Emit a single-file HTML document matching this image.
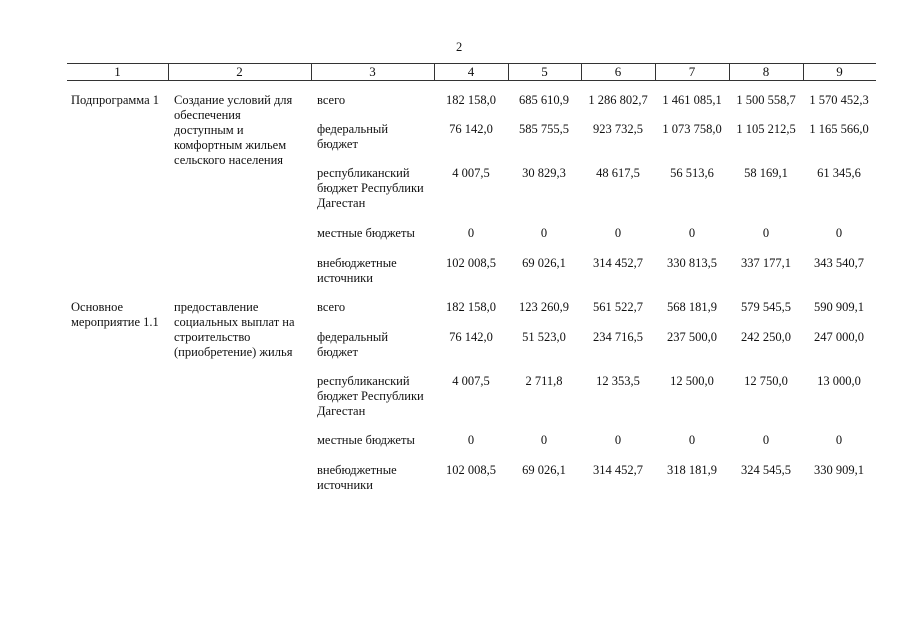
<!DOCTYPE html>
<html><head><meta charset="utf-8"><style>
body{margin:0;width:905px;height:640px;background:#fff;position:relative;overflow:hidden;font-family:"Liberation Serif",serif;font-size:12.5px;color:#111;line-height:15px}
.a{position:absolute;white-space:nowrap}
.c{position:absolute;text-align:center;white-space:nowrap}
.h{position:absolute;top:64px;height:16px;line-height:16px;text-align:center;font-size:13px}
.vl{position:absolute;top:63px;height:18px;width:1px;background:#333}
</style></head><body>
<div class="a" style="left:456px;top:40px;">2</div>
<div style="position:absolute;left:67px;top:63px;width:809px;height:1px;background:#333"></div>
<div style="position:absolute;left:67px;top:80px;width:809px;height:1px;background:#333"></div>
<div class="vl" style="left:168px"></div><div class="vl" style="left:311px"></div><div class="vl" style="left:434px"></div><div class="vl" style="left:508px"></div><div class="vl" style="left:581px"></div><div class="vl" style="left:655px"></div><div class="vl" style="left:729px"></div><div class="vl" style="left:803px"></div>
<div class="h" style="left:67px;width:101px">1</div>
<div class="h" style="left:168px;width:143px">2</div>
<div class="h" style="left:311px;width:123px">3</div>
<div class="h" style="left:434px;width:74px">4</div>
<div class="h" style="left:508px;width:73px">5</div>
<div class="h" style="left:581px;width:74px">6</div>
<div class="h" style="left:655px;width:74px">7</div>
<div class="h" style="left:729px;width:74px">8</div>
<div class="h" style="left:803px;width:73px">9</div>

<div class="a" style="left:71px;top:93px">Подпрограмма 1</div>
<div class="a" style="left:174px;top:93px">Создание условий для<br>обеспечения<br>доступным и<br>комфортным жильем<br>сельского населения</div>
<div class="a" style="left:71px;top:300px">Основное<br>мероприятие 1.1</div>
<div class="a" style="left:174px;top:300px">предоставление<br>социальных выплат на<br>строительство<br>(приобретение) жилья</div>

<div id="rows"></div>
<script>
var labels=["всего","федеральный<br>бюджет","республиканский<br>бюджет Республики<br>Дагестан","местные бюджеты","внебюджетные<br>источники"];
var tops=[93,122,166,226,256,300,330,374,433,463];
var data=[
["182 158,0","685 610,9","1 286 802,7","1 461 085,1","1 500 558,7","1 570 452,3"],
["76 142,0","585 755,5","923 732,5","1 073 758,0","1 105 212,5","1 165 566,0"],
["4 007,5","30 829,3","48 617,5","56 513,6","58 169,1","61 345,6"],
["0","0","0","0","0","0"],
["102 008,5","69 026,1","314 452,7","330 813,5","337 177,1","343 540,7"],
["182 158,0","123 260,9","561 522,7","568 181,9","579 545,5","590 909,1"],
["76 142,0","51 523,0","234 716,5","237 500,0","242 250,0","247 000,0"],
["4 007,5","2 711,8","12 353,5","12 500,0","12 750,0","13 000,0"],
["0","0","0","0","0","0"],
["102 008,5","69 026,1","314 452,7","318 181,9","324 545,5","330 909,1"]];
var cx=[471,544,618,692,766,839];
var h="";
for(var i=0;i<10;i++){
 h+='<div class="a" style="left:317px;top:'+tops[i]+'px">'+labels[i%5]+'</div>';
 for(var j=0;j<6;j++) h+='<div class="c" style="left:'+(cx[j]-40)+'px;width:80px;top:'+tops[i]+'px">'+data[i][j]+'</div>';
}
document.getElementById("rows").innerHTML=h;
</script>
</body></html>
